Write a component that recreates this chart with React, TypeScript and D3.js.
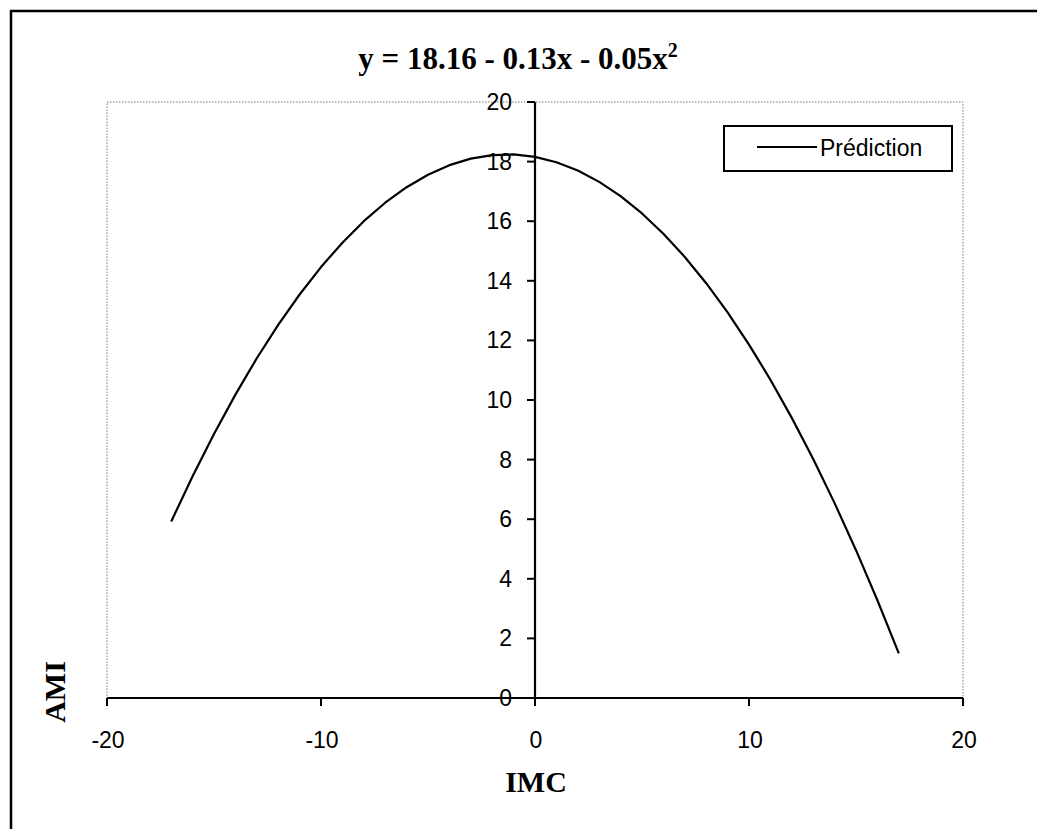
import React from "react";
import * as d3 from "d3";

const xValues = [-17,-16,-15,-14,-13,-12,-11,-10,-9,-8,-7,-6,-5,-4,-3,-2,-1,0,1,2,3,4,5,6,7,8,9,10,11,12,13,14,15,16,17];
const yValues = [5.92,7.44,8.86,10.18,11.4,12.52,13.54,14.46,15.28,16.0,16.62,17.14,17.56,17.88,18.1,18.22,18.24,18.16,17.98,17.7,17.32,16.84,16.26,15.58,14.8,13.92,12.94,11.86,10.68,9.4,8.02,6.54,4.96,3.28,1.5];
const xTicks = [-20, -10, 0, 10, 20];
const yTicks = [0, 2, 4, 6, 8, 10, 12, 14, 16, 18, 20];
const seriesName = "Prédiction";
const titleText = "y = 18.16 - 0.13x - 0.05x";
const xTitle = "IMC";
const yTitle = "AMI";

const W = 1037;
const H = 829;
const left = 107, right = 963, top = 102, bottom = 698;

export default function App() {
  const x = d3.scaleLinear().domain([-20, 20]).range([left, right]);
  const y = d3.scaleLinear().domain([0, 20]).range([bottom, top]);
  const pts = xValues.map((v, i) => [v, yValues[i]] as [number, number]);
  const line = d3.line<[number, number]>().x(d => x(d[0])).y(d => y(d[1]));
  const x0 = x(0);
  const y0 = y(0);
  const sans = "Arial, 'Liberation Sans', sans-serif";
  const serif = "'Times New Roman', 'Liberation Serif', serif";

  return (
    <svg width={W} height={H} style={{ position: "absolute", left: 0, top: 0, background: "#fff" }}>
      <rect x={0} y={0} width={W} height={H} fill="#fff" />
      {/* outer chart border */}
      <rect x={11} y={11} width={W + 20} height={H + 20} fill="none" stroke="#000" strokeWidth={2.5} />
      {/* title */}
      <text x={518} y={69} textAnchor="middle" fontFamily={serif} fontWeight="bold" fontSize={31} fill="#000">
        {titleText}
        <tspan fontSize={20} dy={-12}>2</tspan>
      </text>
      {/* plot area dotted border */}
      <rect x={left} y={top} width={right - left} height={bottom - top} fill="none" stroke="#777" strokeWidth={1} strokeDasharray="1.5,1.5" />
      {/* series */}
      <path d={line(pts) || ""} fill="none" stroke="#000" strokeWidth={2.2} strokeLinejoin="round" />
      {/* x axis */}
      <line x1={left} x2={right} y1={y0} y2={y0} stroke="#000" strokeWidth={2.2} />
      {xTicks.map(t => (
        <g key={"xt" + t}>
          <line x1={x(t)} x2={x(t)} y1={y0} y2={y0 + 8} stroke="#000" strokeWidth={2} />
          <text x={x(t) + 1} y={748} textAnchor="middle" fontFamily={sans} fontSize={23} fill="#000">{t}</text>
        </g>
      ))}
      {/* y axis */}
      <line x1={x0} x2={x0} y1={top} y2={bottom} stroke="#000" strokeWidth={2.2} />
      {yTicks.map(t => (
        <g key={"yt" + t}>
          <line x1={x0 - 8} x2={x0} y1={y(t)} y2={y(t)} stroke="#000" strokeWidth={2} />
          <text x={512} y={y(t) + 8} textAnchor="end" fontFamily={sans} fontSize={23} fill="#000">{t}</text>
        </g>
      ))}
      {/* axis titles */}
      <text x={536} y={792} textAnchor="middle" fontFamily={serif} fontWeight="bold" fontSize={30} fill="#000">{xTitle}</text>
      <text transform="translate(65,692) rotate(-90)" textAnchor="middle" fontFamily={serif} fontWeight="bold" fontSize={30} fill="#000">{yTitle}</text>
      {/* legend */}
      <rect x={724} y={126} width={228} height={45} fill="#fff" stroke="#000" strokeWidth={2} />
      <line x1={757} x2={817} y1={147} y2={147} stroke="#000" strokeWidth={2.2} />
      <text x={820} y={156} fontFamily={sans} fontSize={23} fill="#000">{seriesName}</text>
    </svg>
  );
}
